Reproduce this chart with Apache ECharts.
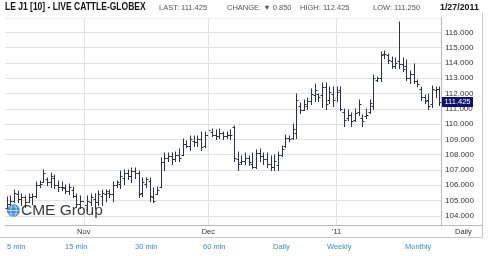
<!DOCTYPE html>
<html><head><meta charset="utf-8">
<script src="https://cdn.jsdelivr.net/npm/echarts@6/dist/echarts.min.js"></script>
<style>html,body{margin:0;padding:0;background:#fff}#c{width:490px;height:256px}</style>
</head><body><div id="c"></div>
<script>
// ---- data (OHLC daily bars) ----
const opens = [104.5,104.8,105.0,105.4,105.1,105.2,104.9,105.2,105.3,106.0,106.2,106.4,106.2,106.5,106.0,105.9,105.8,105.6,105.7,105.3,
104.8,105.0,104.7,104.9,105.1,104.9,105.3,105.4,105.5,105.4,106.0,106.1,106.5,106.8,106.6,106.9,106.8,105.5,106.1,106.3,
105.2,105.4,105.9,107.5,107.8,107.9,107.7,108.0,108.0,108.7,108.6,108.9,108.8,109.0,108.6,109.3,109.5,109.3,109.2,109.4,
109.2,109.3,109.8,107.7,107.5,107.6,107.8,107.4,107.2,108.1,107.9,107.7,107.4,107.2,107.3,108.0,108.6,109.1,109.1,109.4,
111.2,110.9,111.2,111.5,111.9,112.0,111.9,112.4,111.6,112.0,111.7,112.2,110.8,110.4,110.6,110.3,110.8,110.4,110.5,110.8,
111.2,112.9,113.0,114.6,114.5,114.1,113.8,114.1,113.9,113.8,113.0,113.3,112.8,112.3,111.8,111.6,111.3,112.2,112.3];
const highs = [105.2,105.3,105.7,105.6,105.4,105.3,105.4,105.4,106.2,106.3,107.0,106.5,106.8,106.7,106.3,106.2,106.0,106.1,105.9,105.4,
105.3,105.2,105.3,105.4,105.4,105.6,105.7,105.7,105.7,106.2,106.3,106.9,107.0,107.0,107.1,107.1,106.9,106.5,106.5,106.5,
105.8,105.9,107.8,108.1,108.1,108.1,108.2,108.4,109.0,108.9,109.2,109.2,109.2,109.5,109.5,109.8,109.7,109.6,109.7,109.5,
109.5,109.6,109.9,108.2,107.9,108.1,107.9,108.1,108.3,108.4,108.1,108.1,107.9,108.0,108.2,108.6,109.3,109.2,110.0,112.0,
111.4,111.6,111.7,112.3,112.6,112.0,112.7,112.7,112.4,112.4,112.4,112.4,111.0,110.9,110.7,111.0,111.6,110.6,111.0,111.6,
113.2,113.1,114.7,114.8,114.6,114.4,114.3,116.7,114.3,114.2,113.5,113.9,112.9,112.4,111.9,112.0,112.5,112.4,112.425];
const lows = [104.3,104.6,104.9,104.9,104.7,104.6,104.9,104.8,105.2,105.9,106.2,106.0,105.9,105.8,105.6,105.7,105.5,105.4,105.2,104.6,
104.5,104.5,104.4,104.7,104.5,104.7,104.7,105.0,105.2,105.0,105.9,105.8,106.1,106.4,106.2,106.5,105.2,105.3,105.9,105.0,
104.9,105.4,105.9,107.0,107.6,107.4,107.6,107.6,108.0,108.5,108.3,108.6,108.6,108.3,108.5,109.1,109.2,109.0,109.1,109.0,
109.1,109.0,107.6,107.0,107.4,107.4,107.3,107.1,107.1,107.6,107.4,107.2,107.0,107.0,107.0,107.9,108.5,108.9,109.0,109.1,
110.7,110.9,111.0,111.3,111.5,111.5,111.1,111.0,111.4,111.2,111.5,110.9,109.9,110.3,109.9,110.2,110.6,109.9,110.4,110.7,
111.0,112.8,112.8,114.3,114.0,113.7,113.7,113.7,113.5,112.9,112.7,112.7,112.5,111.6,111.4,111.0,111.1,111.8,111.25];
const closes = [104.8,105.0,105.5,105.1,105.2,104.9,105.2,105.3,106.0,106.1,106.8,106.2,106.6,106.0,105.9,105.9,105.6,105.9,105.3,104.8,
105.0,104.7,105.0,105.2,104.9,105.4,105.5,105.6,105.4,106.0,106.2,106.6,106.8,106.6,106.9,106.8,105.4,106.2,106.4,105.3,
105.0,105.7,107.5,107.8,107.9,107.7,108.0,107.8,108.7,108.6,109.0,108.8,109.0,108.5,109.3,109.6,109.3,109.2,109.4,109.2,
109.3,109.3,107.8,107.4,107.6,107.8,107.5,107.2,108.1,107.9,107.7,107.4,107.2,107.6,108.0,108.4,109.1,109.0,109.7,111.6,
110.9,111.3,111.5,112.0,112.2,111.8,112.4,111.3,112.1,111.6,112.1,111.0,110.3,110.6,110.2,110.7,111.3,110.2,110.6,111.4,
113.0,113.0,114.5,114.6,114.2,113.8,114.0,113.9,113.6,113.0,113.3,112.8,112.6,111.8,111.5,111.2,112.3,112.275,111.425];
const monthTicks = {21: 'Nov', 55: 'Dec', 90: "'11"};
const lastPrice = 111.425;
const headerTexts = ['LAST: 111.425', 'CHANGE: \u25BC 0.850', 'HIGH: 112.425', 'LOW: 111.250'];
const titleText = 'LE J1 [10] - LIVE CATTLE-GLOBEX';
const dateText = '1/27/2011';
const periodLinks = ['5 min', '15 min', '30 min', '60 min', 'Daily', 'Weekly', 'Monthly'];
const periodLabel = 'Daily';

const categories = opens.map((_, i) => monthTicks[i] || '');
const seriesData = opens.map((o, i) => [i, o, closes[i], lows[i], highs[i]]);

const chart = echarts.init(document.getElementById('c'), null, {renderer: 'canvas'});
const BAR = '#2e3044';
const FONT = "'Liberation Sans', Arial, sans-serif";

chart.setOption({
  animation: false,
  backgroundColor: '#fff',
  grid: {left: 5, right: 49, top: 18, bottom: 31},
  xAxis: {
    type: 'category', data: categories, boundaryGap: true,
    axisLine: {lineStyle: {color: '#b8b8b8', width: 1}},
    axisTick: {show: false},
    axisLabel: {interval: 0, color: '#333', fontSize: 7.5, fontFamily: FONT, margin: 3},
    splitLine: {show: false}
  },
  yAxis: {
    type: 'value', position: 'right', min: 103.4, max: 116.94, splitNumber: 13, scale: true,
    axisLine: {show: true, lineStyle: {color: '#b8b8b8'}},
    axisTick: {show: false},
    axisLabel: {color: '#333', fontSize: 8, fontFamily: FONT, margin: 4, showMinLabel: false, showMaxLabel: false,
      formatter: v => v.toFixed(3)},
    splitLine: {show: true, lineStyle: {color: '#e2e2e2', width: 1}}
  },
  series: [{
    type: 'custom',
    data: seriesData,
    encode: {x: 0, y: [1, 2, 3, 4]},
    clip: false,
    renderItem: function (params, api) {
      const i = api.value(0);
      const p = api.coord([i, api.value(1)]);
      const x = Math.round(p[0]) + 0.5;
      const oy = Math.round(p[1]) + 0.5;
      const cy = Math.round(api.coord([i, api.value(2)])[1]) + 0.5;
      const ly = Math.round(api.coord([i, api.value(3)])[1]) + 0.5;
      const hy = Math.round(api.coord([i, api.value(4)])[1]) - 0.5;
      const st = {stroke: BAR, lineWidth: 1};
      return {type: 'group', children: [
        {type: 'line', shape: {x1: x, y1: hy, x2: x, y2: ly + 0.5}, style: st},
        {type: 'line', shape: {x1: x - 2, y1: oy, x2: x, y2: oy}, style: st},
        {type: 'line', shape: {x1: x, y1: cy, x2: x + 2, y2: cy}, style: st}
      ]};
    },
    markLine: {
      silent: true, symbol: 'none', label: {show: false}, animation: false,
      lineStyle: {color: '#e0e0e0', type: 'solid', width: 1},
      data: Object.keys(monthTicks).map(k => ({xAxis: Number(k)}))
    },
    z: 3
  }]
});

const py = chart.convertToPixel({yAxisIndex: 0}, lastPrice);
const linkX = [7, 65, 135, 203, 273, 327, 405];
const headX = [159, 227, 300, 373];
const g = [];
// hide the edge grid line at the very top of the plot
g.push({type: 'rect', shape: {x: 5, y: 17, width: 435.5, height: 1.6}, style: {fill: '#fff'}, z: 1});
// header
g.push({type: 'text', x: 5, y: 2, scaleX: 0.81, style: {text: titleText, font: 'bold 10.5px ' + FONT, fill: '#111', verticalAlign: 'top'}});
headerTexts.forEach((t, k) => g.push({type: 'text', left: headX[k], top: 3.5, style: {text: t, font: '7.5px ' + FONT, fill: '#555'}}));
g.push({type: 'text', x: 440, y: 2.5, scaleX: 0.93, style: {text: dateText, font: 'bold 9.5px ' + FONT, fill: '#111', verticalAlign: 'top'}});
// frame lines
g.push({type: 'line', shape: {x1: 441, y1: 225.5, x2: 482, y2: 225.5}, style: {stroke: '#b8b8b8', lineWidth: 1}});
g.push({type: 'line', shape: {x1: 0, y1: 237.5, x2: 482.5, y2: 237.5}, style: {stroke: '#c8c8c8', lineWidth: 1}});
g.push({type: 'line', shape: {x1: 482.5, y1: 12, x2: 482.5, y2: 237.5}, style: {stroke: '#c8c8c8', lineWidth: 1}});
g.push({type: 'text', left: 455, top: 227.5, style: {text: periodLabel, font: '7.5px ' + FONT, fill: '#333'}});
// period links
periodLinks.forEach((t, k) => g.push({type: 'text', left: linkX[k], top: 243, style: {text: t, font: '7.5px ' + FONT, fill: '#3f8cc0'}}));
// last price box
g.push({type: 'rect', shape: {x: 442, y: Math.round(py) - 5, width: 31, height: 10}, style: {fill: '#10106a'}, z: 20});
g.push({type: 'text', x: 457.5, y: Math.round(py), z: 21, style: {text: lastPrice.toFixed(3), font: '7.5px ' + FONT, fill: '#fff', align: 'center', verticalAlign: 'middle'}});
// CME logo
g.push({type: 'circle', shape: {cx: 13.5, cy: 210.5, r: 6.5}, style: {fill: '#2f7fc1', opacity: 0.9}, z: 20});
g.push({type: 'ellipse', shape: {cx: 13.5, cy: 210.5, rx: 2.8, ry: 6.3}, style: {fill: 'none', stroke: '#cfe3f3', lineWidth: 0.8}, z: 21});
g.push({type: 'line', shape: {x1: 7, y1: 210.5, x2: 20, y2: 210.5}, style: {stroke: '#cfe3f3', lineWidth: 0.8}, z: 21});
g.push({type: 'line', shape: {x1: 8, y1: 207, x2: 19, y2: 207}, style: {stroke: '#cfe3f3', lineWidth: 0.6}, z: 21});
g.push({type: 'line', shape: {x1: 8, y1: 214, x2: 19, y2: 214}, style: {stroke: '#cfe3f3', lineWidth: 0.6}, z: 21});
g.push({type: 'text', left: 21, top: 203, z: 20, style: {text: 'CME Group', font: '15.5px ' + FONT, fill: '#2a2a2a', opacity: 0.92}});
chart.setOption({graphic: g});
</script></body></html>
